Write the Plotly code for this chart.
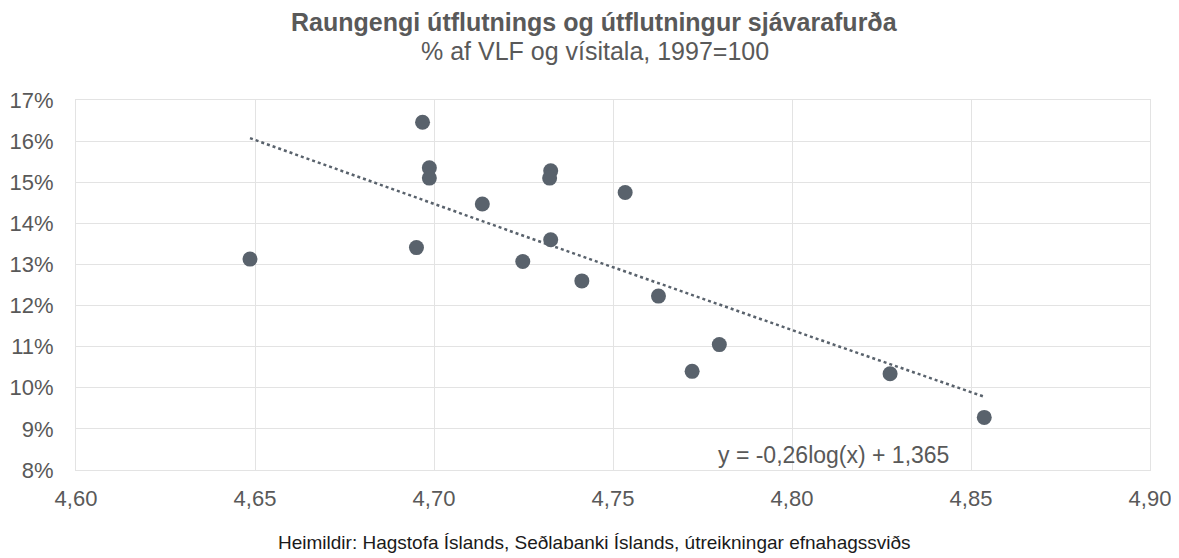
"""Raungengi útflutnings og útflutningur sjávarafurða - scatter with log trendline."""

import numpy as np
import plotly.graph_objects as go

# Raungengi (log of index) and export share of GDP
raungengi = [4.6486, 4.6968, 4.6987, 4.6987, 4.7135, 4.6951, 4.7326, 4.7323, 4.7326,
             4.7248, 4.7413, 4.7534, 4.7627, 4.7797, 4.7721, 4.8274, 4.8537]
utflutningur = [0.1313, 0.1646, 0.1535, 0.1510, 0.1447, 0.1341, 0.1528, 0.1510, 0.1360,
                0.1307, 0.1260, 0.1475, 0.1223, 0.1105, 0.1040, 0.1034, 0.0928]

TITLE = "Raungengi útflutnings og útflutningur sjávarafurða"
SUBTITLE = "% af VLF og vísitala, 1997=100"
EQUATION = "y = -0,26log(x) + 1,365"
SOURCE = "Heimildir: Hagstofa Íslands, Seðlabanki Íslands, útreikningar efnahagssviðs"

DOT = "#59626c"
TEXT = "#595959"
GRID = "#e3e3e3"
FONT = "Liberation Sans, Arial, sans-serif"

# logarithmic trendline (least squares on ln x), drawn between min and max x
a, b = np.polyfit(np.log(raungengi), utflutningur, 1)
trend_x = np.linspace(min(raungengi), max(raungengi), 50)
trend_y = a * np.log(trend_x) + b

fig = go.Figure()
fig.add_trace(go.Scatter(
    x=trend_x, y=trend_y, mode="lines",
    line=dict(color=DOT, width=2.5, dash="dot"),
    hoverinfo="skip", showlegend=False,
))
fig.add_trace(go.Scatter(
    x=raungengi, y=utflutningur, mode="markers",
    marker=dict(color=DOT, size=15),
    showlegend=False,
))

# titles and source as paper annotations (page has an 8px body margin)
# plot area is 370px tall, bottom margin 88px
fig.add_annotation(text=f"<b>{TITLE}</b>", x=0.483, y=1.2108, yanchor="middle",
                   xref="paper", yref="paper", showarrow=False,
                   font=dict(size=25, color=TEXT, family=FONT))
fig.add_annotation(text=SUBTITLE, x=0.483, y=1.1324, yanchor="middle",
                   xref="paper", yref="paper", showarrow=False,
                   font=dict(size=25, color=TEXT, family=FONT))
fig.add_annotation(text=EQUATION, x=4.8115, y=0.0836, yanchor="middle",
                   xref="x", yref="y", showarrow=False,
                   font=dict(size=23, color=TEXT, family=FONT))
fig.add_annotation(text=SOURCE, x=0.483, y=-0.1946, yanchor="middle",
                   xref="paper", yref="paper", showarrow=False,
                   font=dict(size=19, color="#1a1a1a", family=FONT))

axis_style = dict(
    showgrid=True, gridcolor=GRID, gridwidth=1,
    showline=True, linecolor=GRID, mirror=True, zeroline=False,
    automargin=False,
    ticks="", tickfont=dict(size=22, color=TEXT, family=FONT),
)

fig.update_layout(
    width=1171, height=550,
    margin=dict(l=68, r=29, t=92, b=88, autoexpand=False),
    paper_bgcolor="white", plot_bgcolor="white",
    separators=", ",
    font=dict(family=FONT, color=TEXT, size=18),
    xaxis=dict(range=[4.60, 4.90], dtick=0.05, tickformat=".2f",
               ticklabelstandoff=9, **axis_style),
    yaxis=dict(range=[0.08, 0.17], dtick=0.01, tickformat=".0%",
               ticklabelstandoff=17, **axis_style),
)

fig.write_html("out.html")
